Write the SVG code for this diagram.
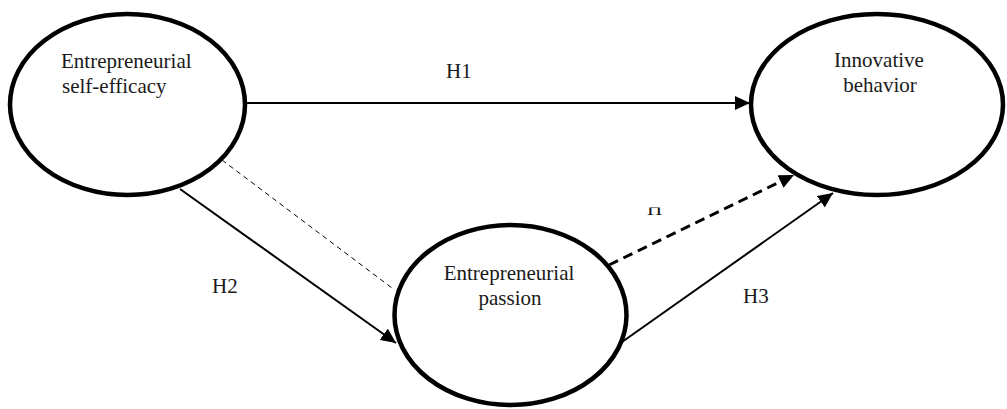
<svg xmlns="http://www.w3.org/2000/svg" width="1007" height="409" viewBox="0 0 1007 409">
<style>
.node{fill:#fff;stroke:#000;stroke-width:4.5}
.t{font-family:"Liberation Serif","Times New Roman",serif;font-size:21px;fill:#1a1a1a}
.solid{stroke:#000;stroke-width:2;fill:none}
</style>
<defs>
<marker id="ah" markerUnits="userSpaceOnUse" markerWidth="16" markerHeight="14" refX="15" refY="7" orient="auto">
<path d="M0,0 L15,7 L0,14 Z" fill="#000"/>
</marker>
<clipPath id="hclip"><rect x="630" y="207.5" width="50" height="20"/></clipPath>
</defs>
<g id="connectors">
<line class="solid" x1="247" y1="103" x2="750" y2="103" marker-end="url(#ah)"/>
<line class="solid" x1="180" y1="189" x2="396" y2="343" marker-end="url(#ah)"/>
<line x1="222" y1="160" x2="392" y2="288" stroke="#000" stroke-width="1" stroke-dasharray="5,4"/>
<line x1="609" y1="265" x2="794" y2="175" stroke="#000" stroke-width="3" stroke-dasharray="10,6" marker-end="url(#ah)"/>
<line class="solid" x1="622" y1="342" x2="833" y2="193" marker-end="url(#ah)"/>
<text class="t" x="446" y="78">H1</text>
<text class="t" x="212" y="293">H2</text>
<text class="t" x="743" y="303">H3</text>
<text class="t" x="647" y="215" clip-path="url(#hclip)">H</text>
</g>
<g id="node-self-efficacy">
<ellipse class="node" cx="127.5" cy="104.5" rx="117.5" ry="90.5"/>
<text class="t" x="61" y="68">Entrepreneurial</text>
<text class="t" x="62" y="93">self-efficacy</text>
</g>
<g id="node-innovative">
<ellipse class="node" cx="877" cy="104.5" rx="126" ry="90.5"/>
<text class="t" x="879" y="67" text-anchor="middle">Innovative</text>
<text class="t" x="880" y="92" text-anchor="middle">behavior</text>
</g>
<g id="node-passion">
<ellipse class="node" cx="510.5" cy="315" rx="116" ry="90"/>
<text class="t" x="509" y="280" text-anchor="middle">Entrepreneurial</text>
<text class="t" x="510" y="305" text-anchor="middle">passion</text>
</g>
</svg>
